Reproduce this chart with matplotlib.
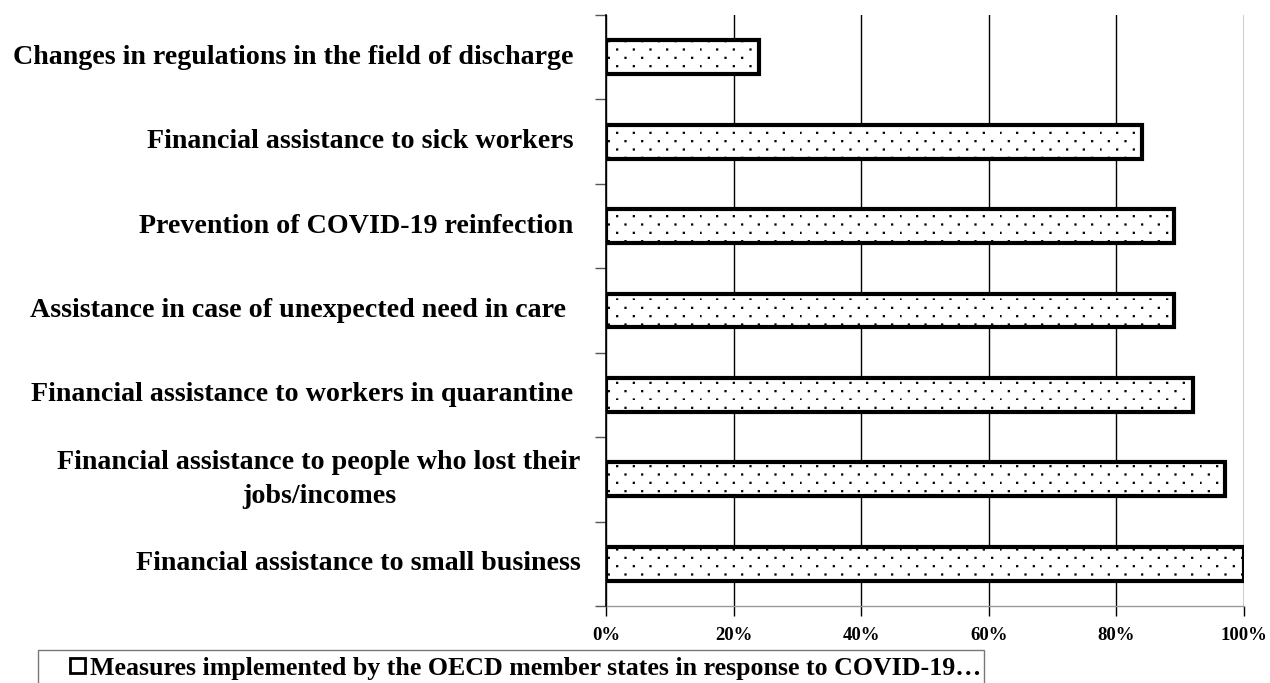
import matplotlib
matplotlib.use("Agg")
import numpy as np
import matplotlib.pyplot as plt
from matplotlib import hatch as mhatch
from matplotlib.path import Path
from matplotlib.patches import Patch, Rectangle

categories = [
    "Financial assistance to small business",
    "Financial assistance to people who lost their\njobs/incomes",
    "Financial assistance to workers in quarantine ",
    "Assistance in case of unexpected need in care  ",
    "Prevention of COVID-19 reinfection ",
    "Financial assistance to sick workers ",
    "Changes in regulations in the field of discharge ",
]
values = [100, 97, 92, 89, 89, 84, 24]
xticks = [0, 20, 40, 60, 80, 100]
xtick_labels = ["0%", "20%", "40%", "60%", "80%", "100%"]
legend_label = "Measures implemented by the OECD member states in response to COVID-19\u2026"


# Custom sparse staggered dot texture (Excel-like "5%" dotted fill)
class StaggerDots(mhatch.HatchPatternBase):
    def __init__(self, hatch, density):
        n = hatch.count('.')
        self.pts = []
        if n:
            ncols, nrows = 6 * n, 12 * n
            for r in range(nrows):
                shift = 0.5 / ncols if r % 2 else 0.0
                for c in range(ncols):
                    self.pts.append((c / ncols + shift, r / nrows))
        self.num_vertices = len(self.pts) * 5

    def set_vertices_and_codes(self, vertices, codes):
        s = 0.01
        sq = np.array([[0, 0], [s, 0], [s, s], [0, s], [0, 0]], dtype=float)
        cc = [Path.MOVETO, Path.LINETO, Path.LINETO, Path.LINETO, Path.CLOSEPOLY]
        for i, (x, y) in enumerate(self.pts):
            vertices[i * 5:(i + 1) * 5] = sq + [x, y]
            codes[i * 5:(i + 1) * 5] = cc


mhatch._hatch_types = [t for t in mhatch._hatch_types
                       if t is not mhatch.SmallFilledCircles] + [StaggerDots]

plt.rcParams["font.family"] = ["Liberation Serif", "DejaVu Serif"]
plt.rcParams["font.weight"] = "bold"
plt.rcParams["hatch.linewidth"] = 0.9
plt.rcParams["hatch.color"] = "black"

fig = plt.figure(figsize=(12.7, 6.83), dpi=100)
ax = fig.add_axes([606 / 1270, 1 - 606 / 683, (1244 - 606) / 1270, (606 - 15) / 683])

pos = list(range(len(categories)))
ax.barh(pos, values, height=0.4, color="white", edgecolor="black",
        linewidth=3, hatch=".", zorder=3)

ax.set_xlim(0, 100)
ax.set_ylim(-0.5, len(categories) - 0.5)
ax.set_xticks(xticks)
ax.set_xticklabels(xtick_labels, fontsize=13.5, fontweight="bold")
ax.set_yticks([p - 0.5 for p in pos] + [len(categories) - 0.5])
ax.set_yticklabels([])
for p, c in zip(pos, categories):
    ax.text(-0.04, p, c, transform=ax.get_yaxis_transform(), ha="right", va="center",
            multialignment="center", fontsize=20.2, fontweight="bold", linespacing=1.45)
ax.tick_params(axis="y", length=8, color="#555555", width=1)
ax.tick_params(axis="x", length=7, color="black", width=1, pad=8)
ax.grid(axis="x", color="black", linewidth=1, zorder=0)
ax.spines["top"].set_visible(False)
ax.spines["right"].set_visible(False)
ax.spines["left"].set_color("black")
ax.spines["left"].set_linewidth(1.2)
ax.spines["bottom"].set_color("#999999")
ax.spines["bottom"].set_linewidth(1)
ax.spines["left"].set_zorder(4)

# legend box (cut off at the bottom as in the reference)
W, H = 1270, 683
fig.patches.append(Rectangle((38 / W, 1 - 695 / H), (984 - 38) / W, (695 - 650) / H,
                             transform=fig.transFigure, facecolor="none",
                             edgecolor="#777777", linewidth=1))
handle = Patch(facecolor="white", edgecolor="black", linewidth=2)
fig.legend([handle], [legend_label], loc="center",
           bbox_to_anchor=(526 / W, 1 - 668 / H),
           bbox_transform=fig.transFigure, frameon=False,
           prop={"size": 18.6, "weight": "bold"}, handlelength=0.55, handleheight=0.55,
           handletextpad=0.22, borderpad=0, borderaxespad=0)

fig.savefig("out.png", dpi=100)
